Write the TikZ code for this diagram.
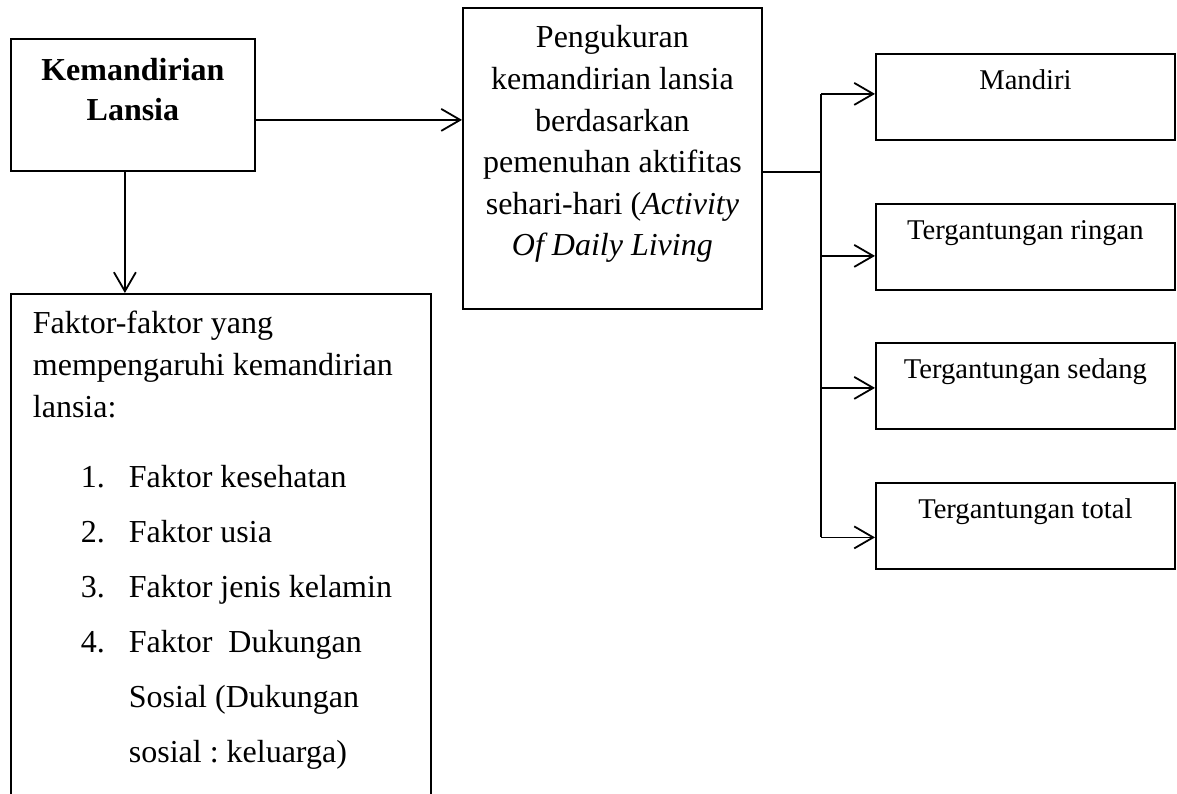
\documentclass[tikz,border=0pt]{standalone}
\usepackage{fontspec}
\setmainfont{Liberation Serif}
\usetikzlibrary{arrows.meta}
\frenchspacing
\tikzset{
  box/.style={draw, line width=0.9pt, inner sep=0pt, anchor=north west},
  arr/.style={line width=0.9pt, -{Straight Barb[length=9.5pt,width=11pt]}},
  link/.style={line width=0.9pt}
}
\begin{document}
\begin{tikzpicture}[x=0.5pt, y=-0.5pt]
  \clip (0,0) rectangle (1177,793);
  \fill[white] (0,0) rectangle (1177,793);
  % left column
  \node[box] (lansia) at (10,38) {\parbox[t][66pt][t]{122pt}{\centering
    \fontsize{16}{20}\selectfont\bfseries\rule{0pt}{21pt}Kemandirian\\Lansia}};
  \node[box] (faktor) at (10,293) {\parbox[t][260pt][t]{210pt}{\raggedright
    \fontsize{16}{21}\selectfont\leftskip=11pt
    \rule{0pt}{20pt}Faktor-faktor yang\\
    mempengaruhi kemandirian\\
    lansia:\\[14pt]
    \hspace*{24pt}\makebox[24pt][l]{1.}Faktor kesehatan\\[6.5pt]
    \hspace*{24pt}\makebox[24pt][l]{2.}Faktor usia\\[6.5pt]
    \hspace*{24pt}\makebox[24pt][l]{3.}Faktor jenis kelamin\\[6.5pt]
    \hspace*{24pt}\makebox[24pt][l]{4.}Faktor\ \ Dukungan\\[6.5pt]
    \hspace*{48pt}Sosial (Dukungan\\[6.5pt]
    \hspace*{48pt}sosial : keluarga)}};
  % middle
  \node[box] (ukur) at (462,7) {\parbox[t][150.5pt][t]{149.5pt}{\centering
    \fontsize{16}{20.8}\selectfont\rule{0pt}{20pt}Pengukuran\\
    kemandirian lansia\\
    berdasarkan\\
    pemenuhan aktifitas\\
    sehari-hari (\textit{Activity}\\
    \textit{Of Daily Living}}};
  % right column
  \node[box] (mandiri) at (875,53) {\parbox[t][43pt][t]{149.5pt}{\centering
    \fontsize{14.3}{18}\selectfont\rule{0pt}{18pt}Mandiri}};
  \node[box] (ringan) at (875,203) {\parbox[t][43pt][t]{149.5pt}{\centering
    \fontsize{14.3}{18}\selectfont\rule{0pt}{18pt}Tergantungan ringan}};
  \node[box] (sedang) at (875,342) {\parbox[t][43pt][t]{149.5pt}{\centering
    \fontsize{14.3}{18}\selectfont\rule{0pt}{18pt}Tergantungan sedang}};
  \node[box] (total) at (875,482) {\parbox[t][43pt][t]{149.5pt}{\centering
    \fontsize{14.3}{18}\selectfont\rule{0pt}{18pt}Tergantungan total}};
  \coordinate (fork) at (821,171);
  % connectors
  \draw[arr] ([yshift=-7.5pt]lansia.east) -- ([yshift=-7.5pt]lansia.east -| ukur.west);
  \draw[arr] ([xshift=-4pt]lansia.south) -- ([xshift=-4pt]lansia.south |- faktor.north);
  \draw[link] ([yshift=-6.75pt]ukur.east) -- ([yshift=-6.75pt]ukur.east -| fork);
  \draw[link] ([yshift=1.5pt]mandiri.west -| fork) -- ([yshift=-5.75pt]total.west -| fork);
  \draw[arr] ([yshift=1.5pt]mandiri.west -| fork) -- ([yshift=1.5pt]mandiri.west);
  \draw[arr] ([yshift=-4.5pt]ringan.west -| fork) -- ([yshift=-4.5pt]ringan.west);
  \draw[arr] ([yshift=-1pt]sedang.west -| fork) -- ([yshift=-1pt]sedang.west);
  \draw[arr] ([yshift=-5.75pt]total.west -| fork) -- ([yshift=-5.75pt]total.west);
\end{tikzpicture}
\end{document}
